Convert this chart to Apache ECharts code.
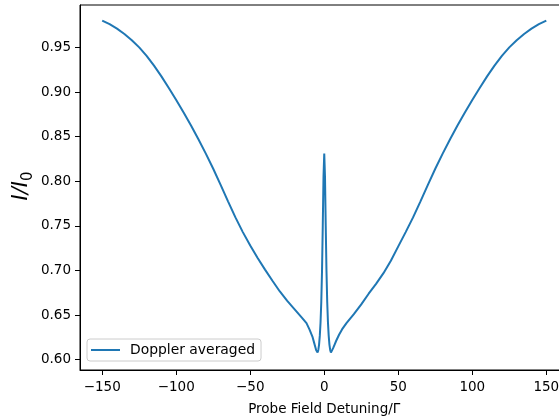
<!DOCTYPE html>
<html>
<head>
<meta charset="utf-8">
<script src="https://cdn.jsdelivr.net/npm/echarts@6/dist/echarts.min.js"></script>
<style>html,body{margin:0;padding:0;background:#fff}#c{width:559px;height:417px}</style>
</head>
<body>
<div id="c"></div>
<script>
var detuning = [-150,-145,-140,-135,-130,-125,-120,-115,-110,-105,-100,-95,-90,-85,-80,-75,-70,-65,-60,-55,-50,-45,-40,-35,-30,-25,-20,-15,-12,-10,-8,-7,-6,-5.5,-5,-4.5,-4,-3.5,-3,-2.5,-2,-1.5,-1,-0.5,0,
  0.5,1,1.5,2,2.5,3,3.5,4,4.5,5,5.5,6,7,8,10,12,15,20,25,30,35,40,45,50,55,60,65,70,75,80,85,90,95,100,105,110,115,120,125,130,135,140,145,150];
var transmission = [0.980,0.976,0.971,0.965,0.958,0.950,0.9405,0.9295,0.9175,0.9045,0.891,0.877,0.8625,0.847,0.831,0.814,0.796,0.7775,0.7595,0.743,0.728,0.714,0.701,0.6885,0.6765,0.666,0.6565,0.647,0.641,0.634,0.626,0.620,0.614,0.611,0.609,0.608,0.611,0.617,0.627,0.642,0.665,0.700,0.750,0.805,0.831,
  0.805,0.750,0.700,0.665,0.642,0.627,0.617,0.611,0.608,0.608,0.610,0.613,0.617,0.621,0.628,0.634,0.641,0.651,0.662,0.674,0.685,0.697,0.711,0.727,0.743,0.7595,0.7775,0.796,0.814,0.831,0.847,0.8625,0.877,0.891,0.9045,0.9175,0.9295,0.9405,0.950,0.958,0.965,0.971,0.976,0.980];
var xTicks = [-150,-100,-50,0,50,100,150];
var yTicks = [0.60,0.65,0.70,0.75,0.80,0.85,0.90,0.95];
var seriesName = 'Doppler averaged';
var xLabel = 'Probe Field Detuning/Γ';
var yLabelMain = 'I/I';
var yLabelSub = '0';

var pts = detuning.map(function(x,i){return [x, transmission[i]];});
var F = 'DejaVu Sans';
var chart = echarts.init(document.getElementById('c'), null, {renderer:'canvas'});
chart.setOption({
  animation:false,
  backgroundColor:'#fff',
  grid:{left:80, top:5, right:-9.5, bottom:47, outerBoundsMode:'none', containLabel:false,
    show:true, borderColor:'#000', borderWidth:1, backgroundColor:'transparent'},
  legend:{show:true, left:87, top:339, orient:'horizontal', padding:[4,6,4,4],
    backgroundColor:'rgba(255,255,255,0.8)', borderColor:'#cccccc', borderWidth:1, borderRadius:3,
    itemWidth:29, itemHeight:2, itemGap:10, icon:'rect',
    textStyle:{fontFamily:F, fontSize:13.9, color:'#000', padding:[0,0,0,5]},
    data:[{name:seriesName, icon:'rect'}]},
  graphic:[{type:'text', x:21.5, y:186, rotation:Math.PI/2,
    style:{text:'{a|' + yLabelMain + '}{b|' + yLabelSub + '}', align:'center', verticalAlign:'middle',
      rich:{a:{fontFamily:F, fontSize:21, fontStyle:'italic', fill:'#000', lineHeight:28, verticalAlign:'middle'},
        b:{fontFamily:F, fontSize:15, fill:'#000', verticalAlign:'bottom', lineHeight:28}}}}],
  xAxis:{type:'value', min:-165, max:165,
    axisLine:{show:true, onZero:false, lineStyle:{color:'#000', width:1}},
    axisTick:{show:true, length:5, inside:false, lineStyle:{color:'#000'}, customValues:xTicks},
    axisLabel:{fontFamily:F, fontSize:13.5, color:'#000', margin:10, customValues:xTicks,
      formatter:function(v){return String(v).replace('-','\u2212');}},
    splitLine:{show:false},
    name:xLabel, nameLocation:'middle', nameGap:32,
    nameTextStyle:{fontFamily:F, fontSize:13.5, color:'#000'}},
  yAxis:{type:'value', min:0.5885, max:0.9975,
    axisLine:{show:true, onZero:false, lineStyle:{color:'#000', width:1}},
    axisTick:{show:true, length:5, inside:false, lineStyle:{color:'#000'}, customValues:yTicks},
    axisLabel:{fontFamily:F, fontSize:13.5, color:'#000', margin:9, customValues:yTicks,
      formatter:function(v){return v.toFixed(2);}},
    splitLine:{show:false}},
  series:[{type:'line', name:seriesName, data:pts, symbol:'none', showSymbol:false,
    lineStyle:{color:'#1f77b4', width:2}, itemStyle:{color:'#1f77b4'}, smooth:false}]
});
</script>
</body>
</html>
